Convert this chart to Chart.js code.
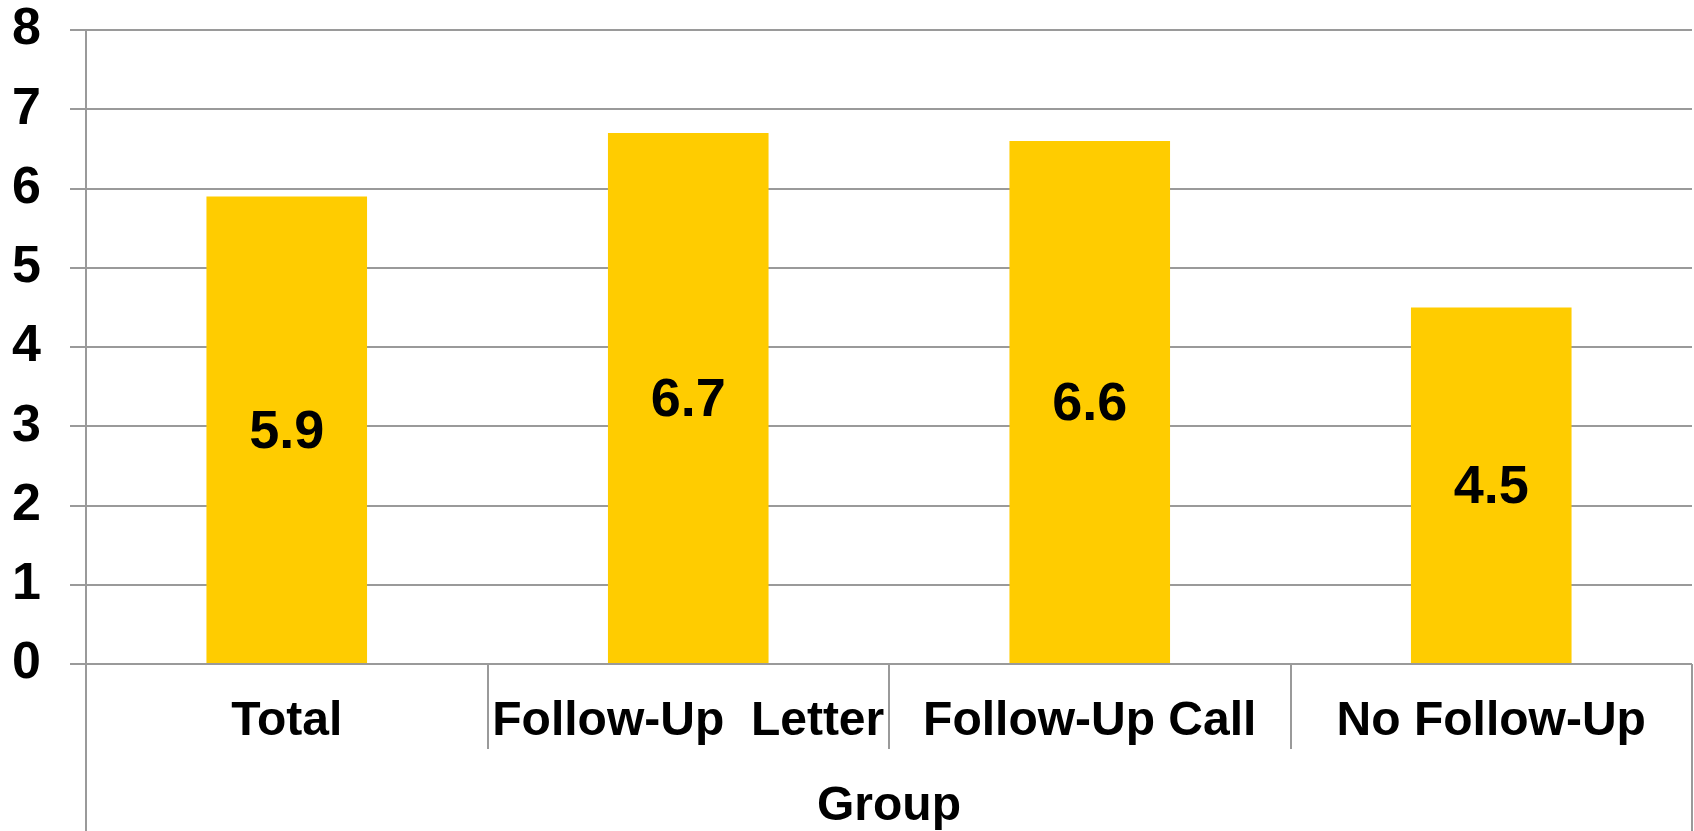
<!DOCTYPE html>
<html>
<head>
<meta charset="utf-8">
<script src="https://cdn.jsdelivr.net/npm/chart.js@4/dist/chart.umd.min.js"></script>
<style>
    html, body { margin: 0; padding: 0; background: #fff; }
    #wrap { width: 1694px; height: 831px; position: relative; }
</style>
</head>
<body>
<div id="wrap"><canvas id="barChart"></canvas></div>
<script>
const groups = ["Total", "Follow-Up  Letter", "Follow-Up Call", "No Follow-Up"];
const scores = [5.9, 6.7, 6.6, 4.5];
const yTicks = [0, 1, 2, 3, 4, 5, 6, 7, 8];

const lineGray = "#9a9a9a";
const fontFamily = "'Liberation Sans', Arial, sans-serif";

// value printed in the middle of each bar
const barValues = {
    id: "barValues",
    afterDatasetsDraw(chart) {
        const ctx = chart.ctx;
        const meta = chart.getDatasetMeta(0);
        ctx.save();
        ctx.font = "bold 54px " + fontFamily;
        ctx.fillStyle = "#000";
        ctx.textAlign = "center";
        ctx.textBaseline = "middle";
        meta.data.forEach((bar, i) => {
            const mid = (bar.y + bar.base) / 2 + 3;
            ctx.fillText(scores[i].toFixed(1), bar.x, mid);
        });
        ctx.restore();
    }
};

// category boxes under the plot: dividers and outer edges
const categoryFrame = {
    id: "categoryFrame",
    afterDraw(chart) {
        const ctx = chart.ctx;
        const x = chart.scales.x;
        const area = chart.chartArea;
        const step = x.width / groups.length;
        const bottom = chart.height;
        ctx.save();
        ctx.strokeStyle = lineGray;
        ctx.lineWidth = 2;
        ctx.beginPath();
        groups.forEach((g, i) => {
            const left = Math.round(x.getPixelForValue(i) - step / 2);
            ctx.moveTo(left, area.bottom);
            ctx.lineTo(left, i === 0 ? bottom : area.bottom + 85);
        });
        const right = Math.round(x.getPixelForValue(groups.length - 1) + step / 2);
        ctx.moveTo(right, area.bottom);
        ctx.lineTo(right, bottom);
        ctx.stroke();
        ctx.restore();
    }
};

new Chart(document.getElementById("barChart"), {
    type: "bar",
    data: {
        labels: groups,
        datasets: [{
            label: "Score",
            data: scores,
            backgroundColor: "#FFCC00",
            borderWidth: 0,
            barPercentage: 0.4,
            categoryPercentage: 1
        }]
    },
    options: {
        responsive: true,
        maintainAspectRatio: false,
        animation: false,
        layout: { padding: { left: 7, right: 2, top: 30, bottom: 0 } },
        plugins: {
            legend: { display: false },
            tooltip: { enabled: false }
        },
        scales: {
            x: {
                grid: { display: false, drawTicks: false },
                border: { display: false },
                afterFit(scale) {
                    scale.height = 167;
                    scale.paddingLeft = 0;
                    scale.paddingRight = 0;
                },
                ticks: {
                    color: "#000",
                    padding: 29,
                    autoSkip: false,
                    maxRotation: 0,
                    minRotation: 0,
                    font: { family: fontFamily, size: 48, weight: "bold", lineHeight: 1.2 }
                },
                title: {
                    display: true,
                    text: "Group",
                    color: "#000",
                    padding: { top: 20, bottom: 0 },
                    font: { family: fontFamily, size: 48, weight: "bold", lineHeight: 1 }
                }
            },
            y: {
                min: 0,
                max: 8,
                afterBuildTicks(scale) {
                    scale.ticks = yTicks.map(v => ({ value: v }));
                },
                afterFit(scale) {
                    scale.width = 79;
                    scale.paddingTop = 0;
                    scale.paddingBottom = 0;
                },
                grid: {
                    color: lineGray,
                    lineWidth: 2,
                    drawTicks: true,
                    tickLength: 16,
                    tickColor: lineGray
                },
                border: { display: true, color: lineGray, width: 2 },
                ticks: {
                    color: "#000",
                    padding: 29,
                    font: { family: fontFamily, size: 52, weight: "bold", lineHeight: 1 }
                }
            }
        }
    },
    plugins: [barValues, categoryFrame]
});
</script>
</body>
</html>
